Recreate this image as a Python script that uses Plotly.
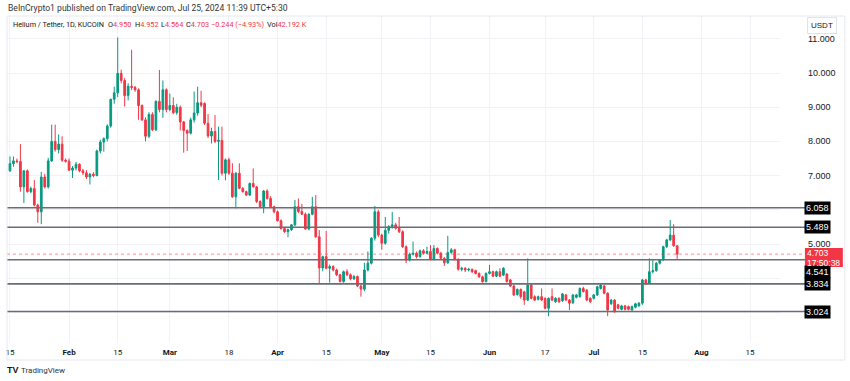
import plotly.graph_objects as go
import pandas as pd

start_date = "2024-01-15"

opens = [
    7.14, 7.35, 7.43, 7.41, 6.67, 7.14, 6.53, 6.62, 6.14, 5.94, 6.96, 6.67, 7.43, 8.00, 7.76, 7.92, 7.45,
    7.42, 7.16, 7.22, 7.33, 7.14, 7.08, 6.96, 7.04, 7.00, 7.72, 7.98, 8.08, 8.45, 9.23, 9.42, 9.99, 9.78,
    9.34, 9.61, 9.58, 9.51, 9.05, 8.63, 8.15, 8.79, 8.34, 9.17, 8.93, 9.51,
    8.93, 9.05, 8.84, 9.00, 8.57, 8.32, 8.24, 8.63, 8.83, 9.13, 9.11, 8.53, 8.16, 8.29, 8.00, 8.03, 7.07,
    7.46, 7.07, 6.38, 7.07, 6.63, 6.53, 6.43, 6.77, 6.67, 6.24, 6.09, 6.55, 6.33, 6.09,
    5.94, 5.68, 5.45, 5.36, 5.42, 5.56, 6.09, 5.95, 5.87, 5.44, 5.87, 6.09, 5.21, 4.30, 4.63, 4.29, 4.34,
    4.24, 4.10, 3.90, 4.19, 4.10, 3.98, 4.05, 3.77, 3.68, 4.24, 4.44, 5.17, 5.94,
    5.26, 5.02, 5.40, 5.51, 5.56, 5.46, 5.36, 4.92, 4.53, 4.70, 4.73, 4.63, 4.80, 4.73, 4.78, 4.55, 4.87,
    4.73, 4.58, 4.45, 4.75, 4.83, 4.55, 4.26, 4.29, 4.24, 4.26, 4.22, 4.14, 4.04,
    3.90, 4.14, 4.19, 4.06, 4.19, 4.09, 4.12, 3.95, 3.77, 3.52, 3.67, 3.60, 3.36, 3.80, 3.46, 3.38, 3.46,
    3.41, 3.12, 3.46, 3.31, 3.41, 3.34, 3.51, 3.36, 3.28, 3.44, 3.46, 3.70, 3.65, 3.41,
    3.41, 3.51, 3.70, 3.77, 3.56, 3.25, 3.36, 3.22, 3.09, 3.19, 3.17, 3.07, 3.15, 3.19, 3.27, 3.95, 3.86,
    4.19, 4.22, 4.44, 4.53, 4.92, 5.12, 5.26, 4.950,
]
highs = [
    7.56, 7.56, 7.50, 7.92, 7.16, 7.18, 6.68, 6.87, 6.18, 7.11, 7.05, 7.52, 8.49, 8.49, 8.20, 8.15, 7.50,
    7.50, 7.28, 7.40, 7.36, 7.20, 7.16, 7.08, 7.10, 7.76, 8.05, 8.12, 8.50, 9.25, 9.60, 11.04, 10.10, 9.85,
    9.70, 10.68, 9.62, 9.55, 9.08, 8.70, 8.85, 8.85, 9.20, 10.09, 9.78, 9.55,
    9.40, 9.29, 9.10, 9.05, 8.60, 8.35, 8.70, 9.46, 9.60, 9.48, 9.14, 8.80, 8.40, 8.77, 8.43, 8.43, 7.50,
    7.52, 7.36, 7.10, 7.36, 6.66, 6.56, 6.80, 7.21, 6.70, 6.28, 6.58, 6.60, 6.40, 6.12,
    5.98, 5.72, 5.50, 5.45, 5.58, 6.29, 6.33, 6.17, 5.92, 5.90, 6.38, 6.43, 5.41, 4.66, 5.38, 4.40, 4.38,
    4.28, 4.13, 4.22, 4.26, 4.14, 4.09, 4.08, 3.82, 4.45, 4.78, 5.20, 6.11, 6.00,
    5.30, 5.79, 5.55, 5.94, 5.62, 5.79, 5.40, 4.96, 4.75, 5.07, 4.78, 4.84, 4.85, 4.92, 4.97, 4.97, 4.90,
    4.77, 4.62, 5.24, 4.88, 4.86, 4.58, 4.33, 4.32, 4.30, 4.28, 4.25, 4.17, 4.07,
    4.17, 4.39, 4.22, 4.22, 4.29, 4.32, 4.15, 3.98, 3.80, 3.70, 3.70, 3.63, 4.58, 3.83, 3.50, 3.49, 3.70,
    3.44, 3.44, 3.70, 3.44, 3.44, 3.57, 3.54, 3.39, 3.54, 3.54, 3.73, 3.75, 3.68, 3.44,
    3.54, 3.78, 3.85, 3.80, 3.59, 3.39, 3.39, 3.25, 3.22, 3.22, 3.20, 3.20, 3.28, 3.30, 3.98, 3.98, 4.58,
    4.55, 4.47, 4.56, 4.95, 5.15, 5.70, 5.58, 4.952,
]
lows = [
    7.11, 7.26, 7.36, 6.53, 6.20, 6.50, 6.48, 6.10, 5.62, 5.58, 6.62, 6.62, 7.40, 7.70, 7.65, 7.40, 7.38,
    7.14, 6.93, 7.15, 7.10, 7.02, 6.90, 6.74, 6.95, 6.98, 7.65, 7.70, 8.00, 8.40, 9.10, 9.30, 9.70, 9.02,
    9.20, 9.50, 9.45, 8.63, 8.60, 8.00, 8.10, 8.30, 8.30, 8.85, 8.69, 8.85,
    8.88, 8.80, 8.78, 8.32, 7.67, 7.72, 8.20, 8.55, 8.75, 9.00, 8.48, 8.10, 7.94, 7.95, 6.87, 7.00, 6.86,
    7.02, 6.35, 6.04, 6.60, 6.50, 6.40, 6.40, 6.65, 6.20, 6.05, 5.90, 6.30, 6.05, 5.90,
    5.66, 5.42, 5.33, 5.20, 5.38, 5.52, 5.90, 5.85, 5.42, 5.40, 5.84, 5.18, 3.83, 4.20, 4.26, 3.87, 4.20,
    4.06, 3.88, 3.87, 4.06, 3.94, 3.95, 3.74, 3.46, 3.62, 4.20, 4.40, 5.10, 5.20,
    4.83, 4.98, 5.30, 5.45, 5.42, 5.32, 4.88, 4.44, 4.49, 4.66, 4.58, 4.60, 4.70, 4.70, 4.52, 4.52, 4.70,
    4.55, 4.36, 4.42, 4.72, 4.52, 4.22, 4.20, 4.18, 4.20, 4.15, 4.11, 4.01, 3.87,
    3.88, 4.11, 4.03, 4.03, 4.03, 4.06, 3.87, 3.74, 3.48, 3.49, 3.40, 3.22, 3.33, 3.38, 3.33, 3.35, 3.33,
    3.09, 2.89, 3.33, 3.28, 3.28, 3.31, 3.33, 3.07, 3.25, 3.41, 3.43, 3.58, 3.33, 3.28,
    3.38, 3.48, 3.67, 3.53, 2.89, 3.22, 2.99, 3.09, 3.06, 3.06, 3.06, 3.05, 3.12, 3.17, 3.22, 3.80, 3.84,
    4.14, 4.19, 4.40, 4.50, 4.88, 5.08, 4.92, 4.564,
]
closes = [
    7.35, 7.43, 7.41, 6.67, 7.14, 6.53, 6.62, 6.14, 5.94, 6.96, 6.67, 7.43, 8.00, 7.76, 7.92, 7.45, 7.42,
    7.16, 7.22, 7.33, 7.14, 7.08, 6.96, 7.04, 7.00, 7.72, 7.98, 8.08, 8.45, 9.23, 9.42, 9.99, 9.78, 9.34,
    9.61, 9.58, 9.51, 9.05, 8.63, 8.15, 8.79, 8.34, 9.17, 8.93, 9.51, 8.93,
    9.05, 8.84, 9.00, 8.57, 8.32, 8.24, 8.63, 8.83, 9.13, 9.06, 8.53, 8.16, 8.29, 8.00, 8.03, 7.07, 7.46,
    7.07, 6.38, 7.07, 6.63, 6.53, 6.43, 6.77, 6.67, 6.24, 6.09, 6.55, 6.33, 6.09, 5.94,
    5.68, 5.45, 5.36, 5.42, 5.56, 6.09, 5.95, 5.87, 5.44, 5.87, 6.09, 5.21, 4.30, 4.63, 4.29, 4.34, 4.24,
    4.10, 3.90, 4.19, 4.10, 3.98, 4.05, 3.77, 3.68, 4.24, 4.44, 5.17, 5.94, 5.26,
    5.02, 5.40, 5.51, 5.56, 5.46, 5.36, 4.92, 4.53, 4.70, 4.73, 4.63, 4.80, 4.73, 4.78, 4.55, 4.87, 4.73,
    4.58, 4.45, 4.75, 4.83, 4.55, 4.26, 4.29, 4.24, 4.26, 4.19, 4.14, 4.04, 3.90,
    4.14, 4.19, 4.06, 4.19, 4.06, 4.29, 3.90, 3.77, 3.51, 3.67, 3.46, 3.36, 3.80, 3.41, 3.36, 3.46, 3.36,
    3.12, 3.41, 3.36, 3.41, 3.31, 3.54, 3.36, 3.27, 3.51, 3.51, 3.70, 3.61, 3.36, 3.31,
    3.51, 3.75, 3.80, 3.56, 3.07, 3.36, 3.02, 3.12, 3.19, 3.09, 3.09, 3.17, 3.25, 3.27, 3.95, 3.86, 4.19,
    4.22, 4.44, 4.53, 4.92, 5.12, 5.26, 4.95, 4.703,
]

levels = [6.058, 5.489, 4.541, 3.834, 3.024]
level_label_pos = [6.058, 5.489, 4.19, 3.834, 3.024]
last_price = 4.703
countdown = "17:50:38"

price_ticks = [5, 7, 8, 9, 10, 11]
grid_ticks = [3, 4, 5, 6, 7, 8, 9, 10, 11]

date_ticks = ["2024-01-15", "2024-02-01", "2024-02-15", "2024-03-01", "2024-03-18", "2024-04-01",
              "2024-04-15", "2024-05-01", "2024-05-15", "2024-06-01", "2024-06-17", "2024-07-01",
              "2024-07-15", "2024-08-01", "2024-08-15"]
date_labels = ["15", "<b>Feb</b>", "15", "<b>Mar</b>", "18", "<b>Apr</b>", "15", "<b>May</b>", "15",
               "<b>Jun</b>", "17", "<b>Jul</b>", "15", "<b>Aug</b>", "15"]

legend_keys = ["Helium / Tether, 1D, KUCOIN", "O", "H", "L", "C", "", "Vol"]
legend_vals = ["", "4.950", "4.952", "4.564", "4.703", "\u22120.244 (\u22124.93%)", "42.192 K"]
legend_px = [11, 106, 133, 159, 184, 210, 266]

dates = pd.date_range(start_date, periods=len(closes), freq="D")

GREEN = "#089981"
RED = "#f23645"
FONT = "Liberation Sans"
TFONT = "Roboto"

W, H = 850, 381
PL, PR, PT, PB = 5, 780, 16, 343


def px_x(px):
    return (px - PL) / (PR - PL)


def px_y(py):
    return (PB - py) / (PB - PT)


fig = go.Figure()
fig.add_trace(go.Candlestick(
    x=dates, open=opens, high=highs, low=lows, close=closes,
    increasing=dict(line=dict(color=GREEN, width=1), fillcolor=GREEN),
    decreasing=dict(line=dict(color=RED, width=1), fillcolor=RED),
    whiskerwidth=0, showlegend=False, hoverinfo="skip",
))

shapes = []
for lv in levels:
    shapes.append(dict(type="line", xref="paper", yref="y", x0=0, x1=px_x(805), y0=lv, y1=lv,
                       line=dict(color="#6a6d78", width=1.6), layer="above"))
shapes.append(dict(type="line", xref="paper", yref="y", x0=0, x1=px_x(805), y0=last_price, y1=last_price,
                   line=dict(color="rgba(242,54,69,0.55)", width=1, dash="dot"), layer="above"))
# panel border
shapes.append(dict(type="rect", xref="paper", yref="paper", x0=px_x(5), x1=px_x(845),
                   y0=px_y(360), y1=px_y(16), line=dict(color="#e6e8ee", width=1)))
# last price label box
shapes.append(dict(type="rect", xref="paper", yref="paper", x0=px_x(805), x1=px_x(843),
                   y0=px_y(267), y1=px_y(248), fillcolor=RED, line=dict(width=0), layer="above"))

annotations = []
annotations.append(dict(xref="paper", yref="paper", x=px_x(4), y=px_y(8), xanchor="left", yanchor="middle",
                        text="BeInCrypto1 published on TradingView.com, Jul 25, 2024 11:39 UTC+5:30",
                        showarrow=False, font=dict(family=TFONT, size=8.6, color="#333333")))
for key, val, lx in zip(legend_keys, legend_vals, legend_px):
    txt = key + (f"<span style='color:{RED}'>{val}</span>" if val else "")
    annotations.append(dict(xref="paper", yref="paper", x=px_x(lx - 2), y=px_y(25), xanchor="left",
                            yanchor="middle", text=txt, showarrow=False,
                            font=dict(family=TFONT, size=7.3, color="#131722")))
annotations.append(dict(xref="paper", yref="paper", x=px_x(807), y=px_y(26), xanchor="left", yanchor="middle",
                        text="USDT", showarrow=False, bgcolor="white", bordercolor="#e0e3eb", borderwidth=1,
                        borderpad=3, font=dict(family=FONT, size=8, color="#131722")))
for t in price_ticks:
    annotations.append(dict(xref="paper", yref="y", x=px_x(806), y=t, xanchor="left", yanchor="middle",
                            text=f"{t:.3f}", showarrow=False, font=dict(family=FONT, size=9, color="#131722")))
for lv, pos in zip(levels, level_label_pos):
    annotations.append(dict(xref="paper", yref="y", x=px_x(804), y=pos, xanchor="left", yanchor="middle",
                            text=f"{lv:.3f}", showarrow=False, bgcolor="#000000", borderpad=1,
                            font=dict(family=FONT, size=9, color="white")))
annotations.append(dict(xref="paper", yref="paper", x=px_x(805), y=px_y(253), xanchor="left", yanchor="middle",
                        text=f"{last_price:.3f}", showarrow=False, font=dict(family=FONT, size=8.5, color="white")))
annotations.append(dict(xref="paper", yref="paper", x=px_x(805), y=px_y(262.5), xanchor="left", yanchor="middle",
                        text=countdown, showarrow=False, font=dict(family=FONT, size=8.5, color="white")))
annotations.append(dict(xref="paper", yref="paper", x=px_x(3), y=px_y(370), xanchor="left", yanchor="middle",
                        text="<b>TV</b>", showarrow=False, font=dict(family=FONT, size=9, color="#131722")))
annotations.append(dict(xref="paper", yref="paper", x=px_x(17), y=px_y(370), xanchor="left", yanchor="middle",
                        text="TradingView", showarrow=False, font=dict(family=TFONT, size=8, color="#333333")))

fig.update_layout(
    width=W, height=H,
    margin=dict(l=PL, r=W - PR, t=PT, b=H - PB),
    paper_bgcolor="white", plot_bgcolor="white",
    shapes=shapes, annotations=annotations,
    font=dict(family=FONT, size=9, color="#131722"),
    xaxis=dict(type="date", range=["2024-01-14 03:20", "2024-08-23 14:24"],
               tickvals=date_ticks, ticktext=date_labels, showgrid=True, gridcolor="#f1f2f5",
               rangeslider=dict(visible=False), showline=False, zeroline=False, ticks="",
               ticklabelstandoff=3,
               tickfont=dict(family=TFONT, size=8, color="#131722")),
    yaxis=dict(side="right", range=[2.105, 11.667], tickvals=grid_ticks, showticklabels=False,
               showgrid=True, gridcolor="#f1f2f5", zeroline=False, showline=False, ticks=""),
)

fig.write_html("out.html", config={"displayModeBar": False},
               post_script="document.body.style.margin='0';document.body.style.overflow='hidden';")
